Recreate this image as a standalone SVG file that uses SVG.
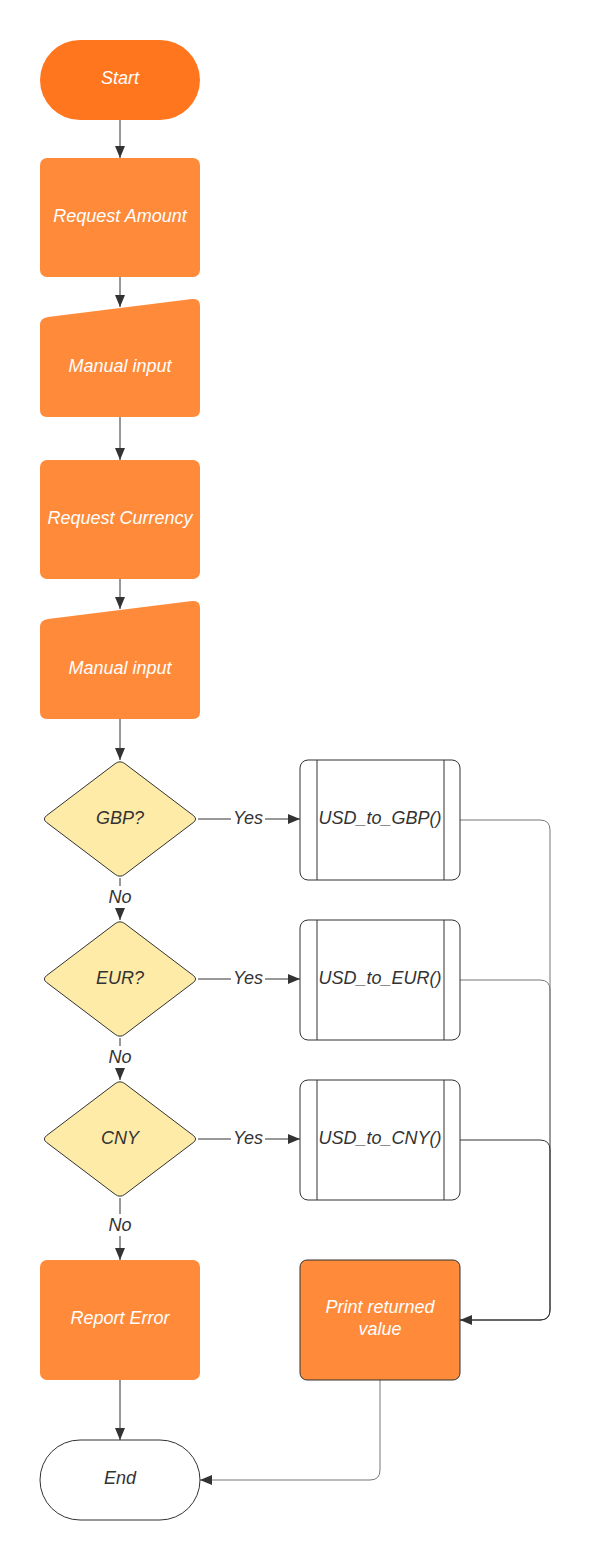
<svg xmlns="http://www.w3.org/2000/svg" width="590" height="1560" viewBox="0 0 590 1560">
<style>
.t{font-family:"Liberation Sans",Arial,sans-serif;font-size:18px;font-style:italic;text-anchor:middle;dominant-baseline:central}
.w{fill:#ffffff}
.d{fill:#333333}
.or{fill:#FF8A3A}
.dia{fill:#FFEBA8;stroke:#333333;stroke-width:1}
.sub{fill:#ffffff;stroke:#333333;stroke-width:1}
.c{fill:none;stroke:#333333;stroke-width:1}
.g{fill:none;stroke:#777777;stroke-width:1}
.lb{fill:#ffffff}
</style>
<defs>
<marker id="ah" viewBox="0 0 12 10" refX="12" refY="5" markerWidth="12" markerHeight="10" markerUnits="userSpaceOnUse" orient="auto">
<path d="M0,0 L12,5 L0,10 Z" fill="#333333"/>
</marker>
<path id="diam" d="M -4.8,-55.4 Q 0,-59 4.8,-55.4 L 73.2,-3.6 Q 78,0 73.2,3.6 L 4.8,55.4 Q 0,59 -4.8,55.4 L -73.2,3.6 Q -78,0 -73.2,-3.6 Z"/>
</defs>
<rect width="590" height="1560" fill="#ffffff"/>

<g id="connectors">
<line class="c" x1="120" y1="120" x2="120" y2="158" marker-end="url(#ah)"/>
<line class="c" x1="120" y1="277" x2="120" y2="307" marker-end="url(#ah)"/>
<line class="c" x1="120" y1="417" x2="120" y2="460" marker-end="url(#ah)"/>
<line class="c" x1="120" y1="579" x2="120" y2="609" marker-end="url(#ah)"/>
<line class="c" x1="120" y1="719" x2="120" y2="760" marker-end="url(#ah)"/>
<line class="c" x1="120" y1="878" x2="120" y2="920" marker-end="url(#ah)"/>
<line class="c" x1="120" y1="1038" x2="120" y2="1080" marker-end="url(#ah)"/>
<line class="c" x1="120" y1="1198" x2="120" y2="1260" marker-end="url(#ah)"/>
<line class="c" x1="120" y1="1380" x2="120" y2="1440" marker-end="url(#ah)"/>
<line class="c" x1="198" y1="819" x2="300" y2="819" marker-end="url(#ah)"/>
<line class="c" x1="198" y1="979" x2="300" y2="979" marker-end="url(#ah)"/>
<line class="c" x1="198" y1="1139" x2="300" y2="1139" marker-end="url(#ah)"/>
<path class="g" d="M 460,820 H 540 Q 550,820 550,830 V 1310 Q 550,1320 540,1320 H 460"/>
<path class="g" d="M 460,980 H 540 Q 550,980 550,990 V 1310 Q 550,1320 540,1320 H 460"/>
<path class="c" d="M 460,1140 H 540 Q 550,1140 550,1150 V 1310 Q 550,1320 540,1320 H 460" marker-end="url(#ah)"/>
<path class="g" d="M 380,1380 V 1470 Q 380,1480 370,1480 H 200" marker-end="url(#ah)"/>
<rect class="lb" x="231" y="807" width="34" height="22"/>
<text class="t d" x="248" y="818">Yes</text>
<rect class="lb" x="231" y="967" width="34" height="22"/>
<text class="t d" x="248" y="978">Yes</text>
<rect class="lb" x="231" y="1127" width="34" height="22"/>
<text class="t d" x="248" y="1138">Yes</text>
<rect class="lb" x="105" y="886" width="30" height="22"/>
<text class="t d" x="120" y="897">No</text>
<rect class="lb" x="105" y="1046" width="30" height="22"/>
<text class="t d" x="120" y="1057">No</text>
<rect class="lb" x="105" y="1214" width="30" height="22"/>
<text class="t d" x="120" y="1225">No</text>
</g>

<g id="start">
<rect x="40" y="40" width="160" height="80" rx="40" ry="40" fill="#FF761F"/>
<text class="t w" x="120" y="78">Start</text>
</g>
<g id="request-amount">
<rect class="or" x="40" y="158" width="160" height="119" rx="7"/>
<text class="t w" x="120" y="216">Request Amount</text>
</g>
<g id="manual-input-1">
<path class="or" d="M 48,317 L 192,299 Q 200,298 200,306 L 200,410 Q 200,417 193,417 L 47,417 Q 40,417 40,410 L 40,325 Q 40,318 48,317 Z"/>
<text class="t w" x="120" y="366">Manual input</text>
</g>
<g id="request-currency">
<rect class="or" x="40" y="460" width="160" height="119" rx="7"/>
<text class="t w" x="120" y="518">Request Currency</text>
</g>
<g id="manual-input-2">
<path class="or" d="M 48,619 L 192,601 Q 200,600 200,608 L 200,712 Q 200,719 193,719 L 47,719 Q 40,719 40,712 L 40,627 Q 40,620 48,619 Z"/>
<text class="t w" x="120" y="668">Manual input</text>
</g>
<g id="gbp">
<use href="#diam" class="dia" transform="translate(120,819)"/>
<text class="t d" x="120" y="818">GBP?</text>
</g>
<g id="eur">
<use href="#diam" class="dia" transform="translate(120,979)"/>
<text class="t d" x="120" y="978">EUR?</text>
</g>
<g id="cny">
<use href="#diam" class="dia" transform="translate(120,1139)"/>
<text class="t d" x="120" y="1138">CNY</text>
</g>
<g id="usd-gbp">
<rect class="sub" x="300" y="760" width="160" height="120" rx="8"/>
<line class="c" x1="317" y1="760" x2="317" y2="880"/>
<line class="c" x1="444" y1="760" x2="444" y2="880"/>
<text class="t d" x="380" y="818">USD_to_GBP()</text>
</g>
<g id="usd-eur">
<rect class="sub" x="300" y="920" width="160" height="120" rx="8"/>
<line class="c" x1="317" y1="920" x2="317" y2="1040"/>
<line class="c" x1="444" y1="920" x2="444" y2="1040"/>
<text class="t d" x="380" y="978">USD_to_EUR()</text>
</g>
<g id="usd-cny">
<rect class="sub" x="300" y="1080" width="160" height="120" rx="8"/>
<line class="c" x1="317" y1="1080" x2="317" y2="1200"/>
<line class="c" x1="444" y1="1080" x2="444" y2="1200"/>
<text class="t d" x="380" y="1138">USD_to_CNY()</text>
</g>
<g id="report-error">
<rect class="or" x="40" y="1260" width="160" height="120" rx="7"/>
<text class="t w" x="120" y="1318">Report Error</text>
</g>
<g id="print-value">
<rect x="300" y="1260" width="160" height="120" rx="7" fill="#FF8A3A" stroke="#333333" stroke-width="1"/>
<text class="t w" x="380" y="1307">Print returned</text>
<text class="t w" x="380" y="1329">value</text>
</g>
<g id="end">
<rect x="40" y="1440" width="160" height="80" rx="40" ry="40" fill="#ffffff" stroke="#333333" stroke-width="1"/>
<text class="t d" x="120" y="1478">End</text>
</g>
</svg>
